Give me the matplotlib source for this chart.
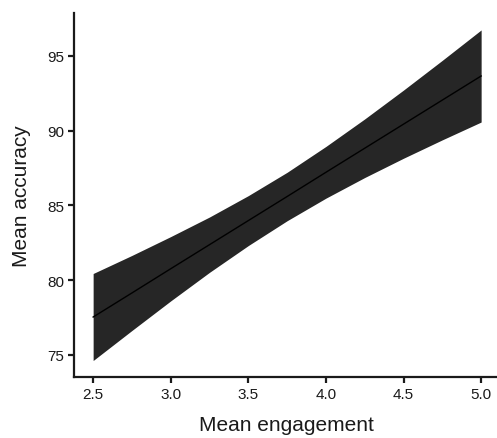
import matplotlib
matplotlib.use("Agg")
import matplotlib.pyplot as plt

# Data
engagement = [2.5, 2.75, 3.0, 3.25, 3.5, 3.75, 4.0, 4.25, 4.5, 4.75, 5.0]
fit = [77.54, 79.15, 80.77, 82.38, 83.99, 85.60, 87.22, 88.83, 90.44, 92.05, 93.66]
ci_low = [74.63, 76.64, 78.62, 80.53, 82.32, 83.98, 85.49, 86.87, 88.16, 89.39, 90.58]
ci_high = [80.45, 81.66, 82.92, 84.23, 85.66, 87.22, 88.95, 90.79, 92.72, 94.71, 96.74]
xticks = [2.5, 3.0, 3.5, 4.0, 4.5, 5.0]
yticks = [75, 80, 85, 90, 95]

plt.rcParams['font.family'] = ['Liberation Sans', 'DejaVu Sans']

fig = plt.figure(figsize=(4.97, 4.39), dpi=100)
ax = fig.add_axes([0.149, 0.139, 0.855, 0.829])

ax.fill_between(engagement, ci_low, ci_high, color='#262626', linewidth=0)
ax.plot(engagement, fit, color='black', linewidth=1.0)

ax.set_xlim(2.377, 5.115)
ax.set_ylim(73.53, 97.87)
ax.set_xticks(xticks)
ax.set_yticks(yticks)
ax.set_xticklabels([f"{v:.1f}" for v in xticks])
ax.set_yticklabels([str(v) for v in yticks])

for s in ['top', 'right']:
    ax.spines[s].set_visible(False)
for s in ['left', 'bottom']:
    ax.spines[s].set_linewidth(1.6)
    ax.spines[s].set_color('#1a1a1a')

ax.tick_params(axis='both', direction='out', length=4, width=1.6, color='#1a1a1a',
               labelsize=11, labelcolor='#1a1a1a', pad=3)
ax.set_xlabel('Mean engagement', fontsize=15, color='#1a1a1a', labelpad=10)
ax.set_ylabel('Mean accuracy', fontsize=15, color='#1a1a1a', labelpad=12)

fig.savefig('out.png', dpi=100)
